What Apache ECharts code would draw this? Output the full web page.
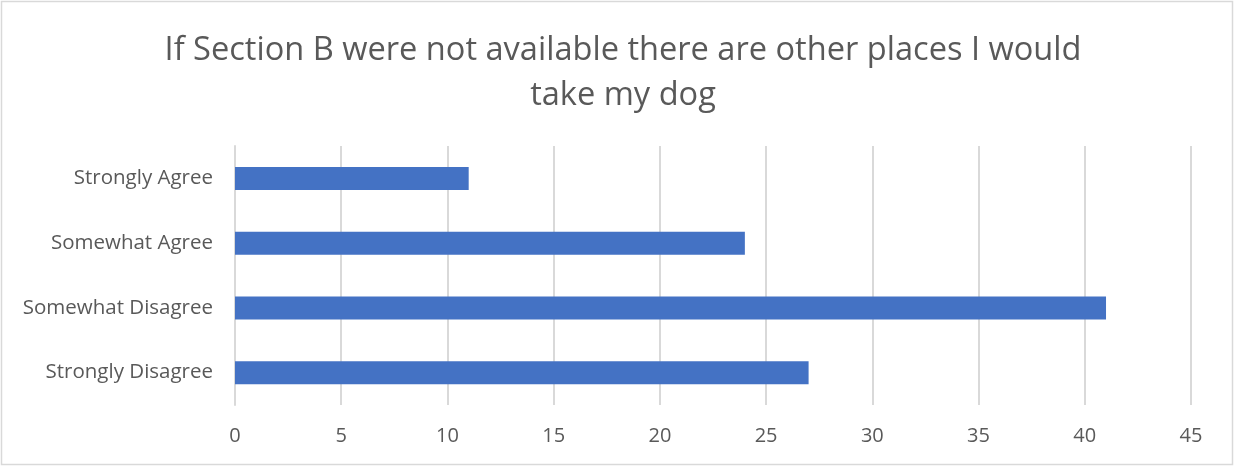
<!DOCTYPE html>
<html>
<head>
<meta charset="utf-8">
<script src="https://cdn.jsdelivr.net/npm/echarts@6/dist/echarts.min.js"></script>
<style>
html,body{margin:0;padding:0;background:#fff;}
#main{width:1238px;height:466px;}
</style>
</head>
<body>
<div id="main"></div>
<script>
const titleText = 'If Section B were not available there are other places I would\ntake my dog';
const categories = ['Strongly Disagree', 'Somewhat Disagree', 'Somewhat Agree', 'Strongly Agree'];
const values = [27, 41, 24, 11];
const xTicks = { min: 0, max: 45, interval: 5 };

const chart = echarts.init(document.getElementById('main'), null, { renderer: 'canvas' });
chart.setOption({
  backgroundColor: '#ffffff',
  animation: false,
  title: {
    text: titleText,
    left: 618,
    top: 23,
    textAlign: 'center',
    textStyle: {
      fontFamily: 'Open Sans',
      fontSize: 32.6,
      fontWeight: 'normal',
      color: '#595959',
      lineHeight: 45
    }
  },
  graphic: [{
    type: 'rect',
    shape: { x: 1.5, y: 1.5, width: 1231, height: 463 },
    style: { fill: 'none', stroke: '#d9d9d9', lineWidth: 1.5 },
    silent: true
  }],
  grid: { left: 235, right: 47, top: 146, bottom: 61, containLabel: false },
  xAxis: {
    type: 'value',
    min: xTicks.min, max: xTicks.max, interval: xTicks.interval,
    axisLine: { show: false },
    axisTick: { show: false },
    splitLine: { show: true, lineStyle: { color: '#d9d9d9', width: 2 } },
    axisLabel: { fontFamily: 'Open Sans', fontSize: 20, color: '#595959', margin: 21 }
  },
  yAxis: {
    type: 'category',
    data: categories,
    axisLine: { show: true, lineStyle: { color: '#d9d9d9', width: 2 } },
    axisTick: { show: false },
    axisLabel: { fontFamily: 'Open Sans', fontSize: 20.5, color: '#595959', margin: 22 }
  },
  series: [{
    type: 'bar',
    data: values,
    barWidth: 23,
    itemStyle: { color: '#4472C4' }
  }]
});
</script>
</body>
</html>
